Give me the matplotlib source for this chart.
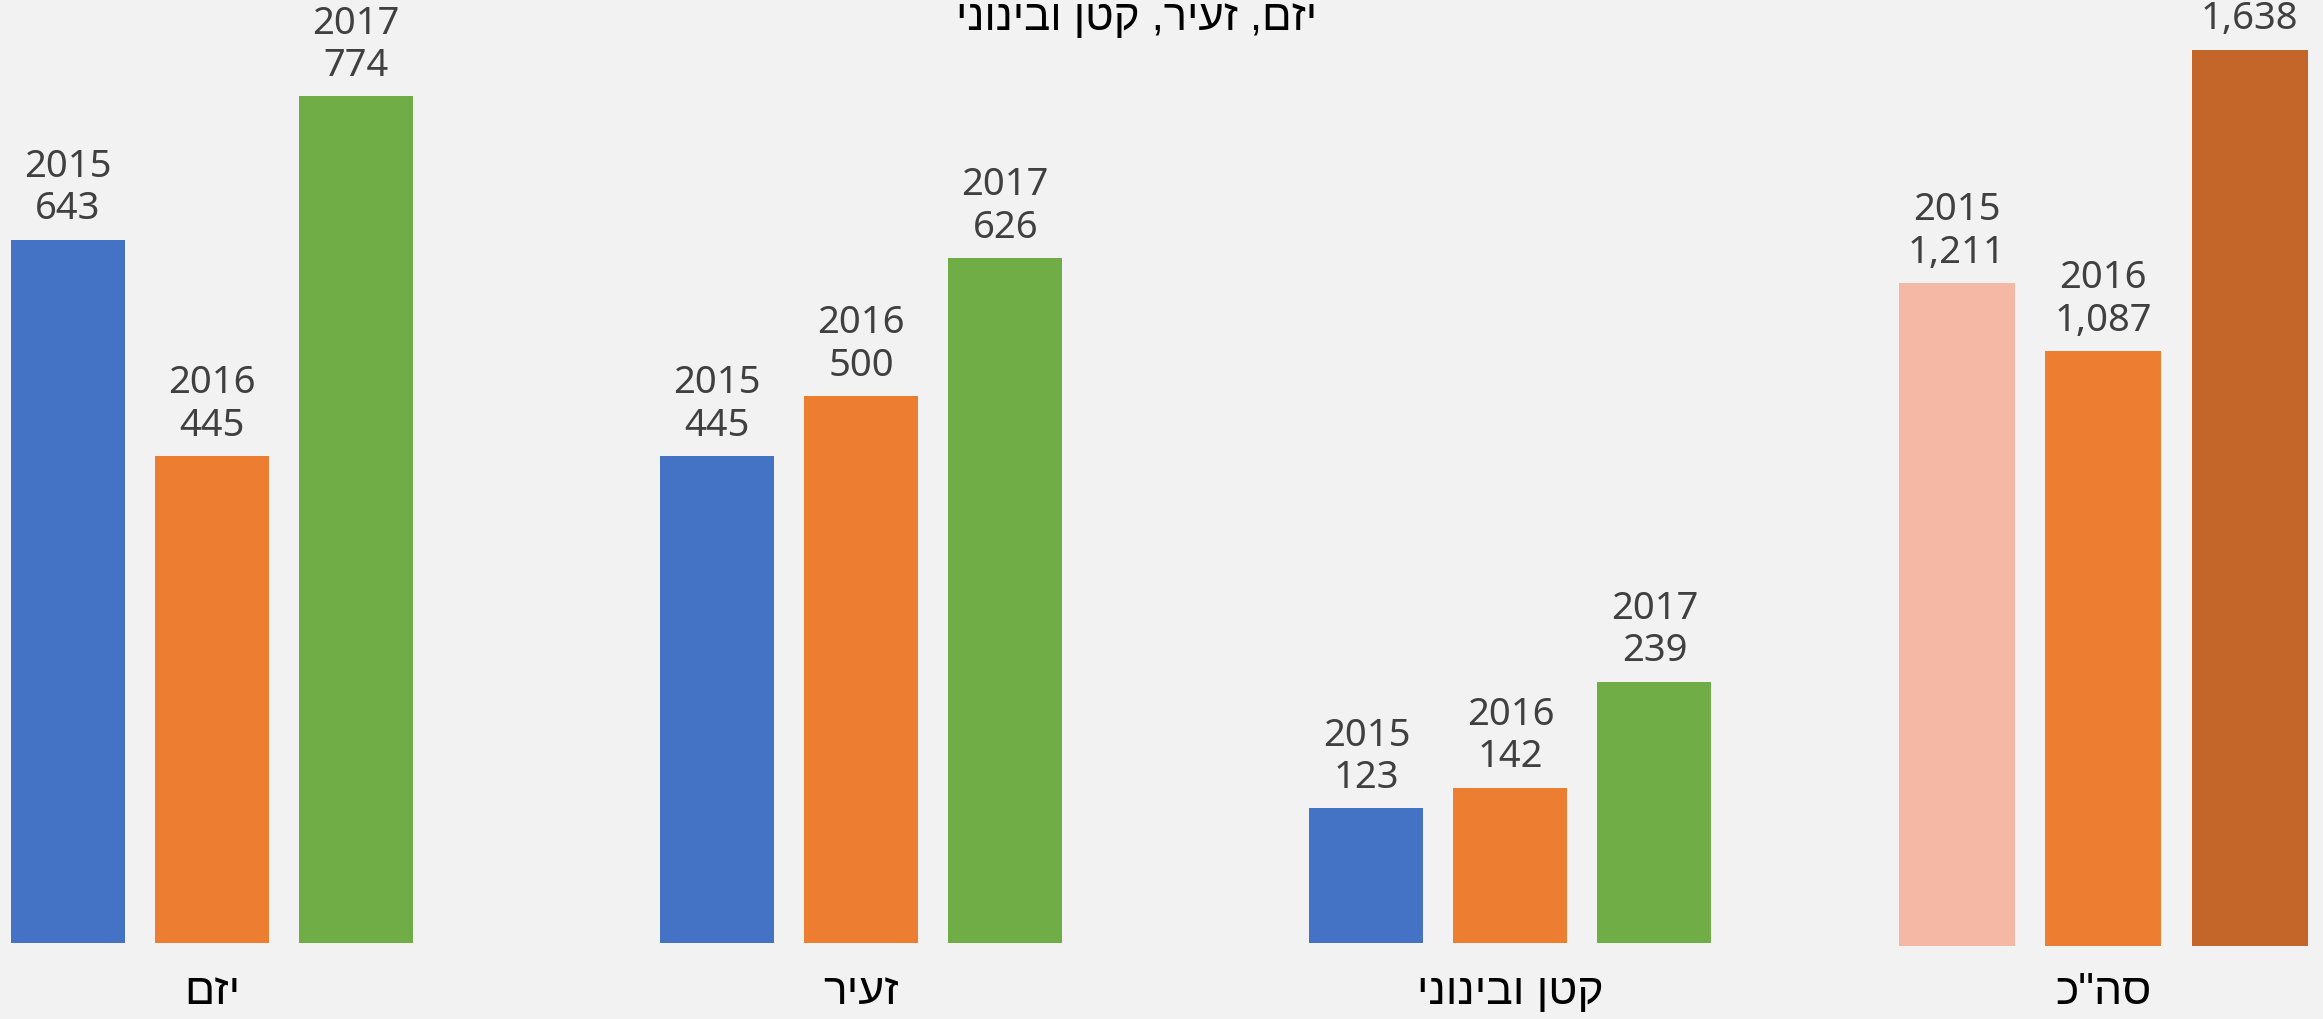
import matplotlib
matplotlib.use("Agg")
import matplotlib.pyplot as plt
import numpy as np

# data
categories = ['יזם', 'זעיר', 'קטן ובינוני']
years = ['2015', '2016', '2017']
v2015 = [643, 445, 123]
v2016 = [445, 500, 142]
v2017 = [774, 626, 239]
total_label = 'סה"כ'
totals = [1211, 1087, 1638]
title = 'יזם, זעיר, קטן ובינוני'

colors = ['#4472C4', '#ED7D31', '#70AD47']
total_colors = ['#F4B8A5', '#ED7D31', '#C4662A']
bg = '#F2F2F2'

def rtl(s):
    # matplotlib has no bidi, so hebrew goes in visual order
    return s[::-1]

W, H = 2323, 1020
fig = plt.figure(figsize=(W / 100, H / 100), dpi=100, facecolor=bg)

# axes sit on the bar baseline (944 px from the top)
ax = fig.add_axes([0, (H - 944) / H, 1, 944 / H])
ax.set_facecolor(bg)
px_per_unit = 1.0937
ax.set_ylim(0, 944 / px_per_unit)
grp = 649.25
ax.set_xlim(-212 / grp, -212 / grp + W / grp)

x = np.arange(len(categories))
step = 144 / grp
bw = 114 / grp
label_font = ['Noto Sans', 'DejaVu Sans']
heb_font = ['Liberation Sans', 'DejaVu Sans']

for j, vals in enumerate([v2015, v2016, v2017]):
    pos = x + (j - 1) * step
    bars = ax.bar(pos, vals, width=bw, color=colors[j], edgecolor='none')
    for b, v in zip(bars, vals):
        ax.annotate(f'{years[j]}\n{v:,}', (b.get_x() + b.get_width() / 2, v),
                    xytext=(0, 9), textcoords='offset points', ha='center', va='bottom',
                    fontsize=27.5, color='#404040', family=label_font, linespacing=1.15)

# totals on their own scale
ax2 = ax.twinx()
tot_px = 0.547
ax2.set_ylim(2.7 / tot_px, 2.7 / tot_px + 944 / tot_px)
tot_x = 2.913
tstep = 146.5 / grp
tbw = 116 / grp
for j, v in enumerate(totals):
    p = tot_x + (j - 1) * tstep
    ax2.bar(p, v, width=tbw, color=total_colors[j], edgecolor='none', clip_on=False)
    ax2.annotate(f'{years[j]}\n{v:,}', (p, v), xytext=(0, 9), textcoords='offset points',
                 ha='center', va='bottom', fontsize=27.5, color='#404040', family=label_font,
                 linespacing=1.15, annotation_clip=False)

ax.set_xticks(list(x) + [tot_x])
ax.set_xticklabels([rtl(c) for c in categories] + [rtl(total_label)],
                   family=heb_font, fontsize=32, color='black')
ax.tick_params(axis='x', length=0, pad=20)
ax.set_yticks([])
ax2.set_yticks([])
for a in (ax, ax2):
    for s in a.spines.values():
        s.set_visible(False)

fig.text(1137 / W, 1 - 30 / H, rtl(title), ha='center', va='baseline',
         fontsize=31.5, color='black', family=heb_font)

fig.savefig('out.png', dpi=100, facecolor=bg)
